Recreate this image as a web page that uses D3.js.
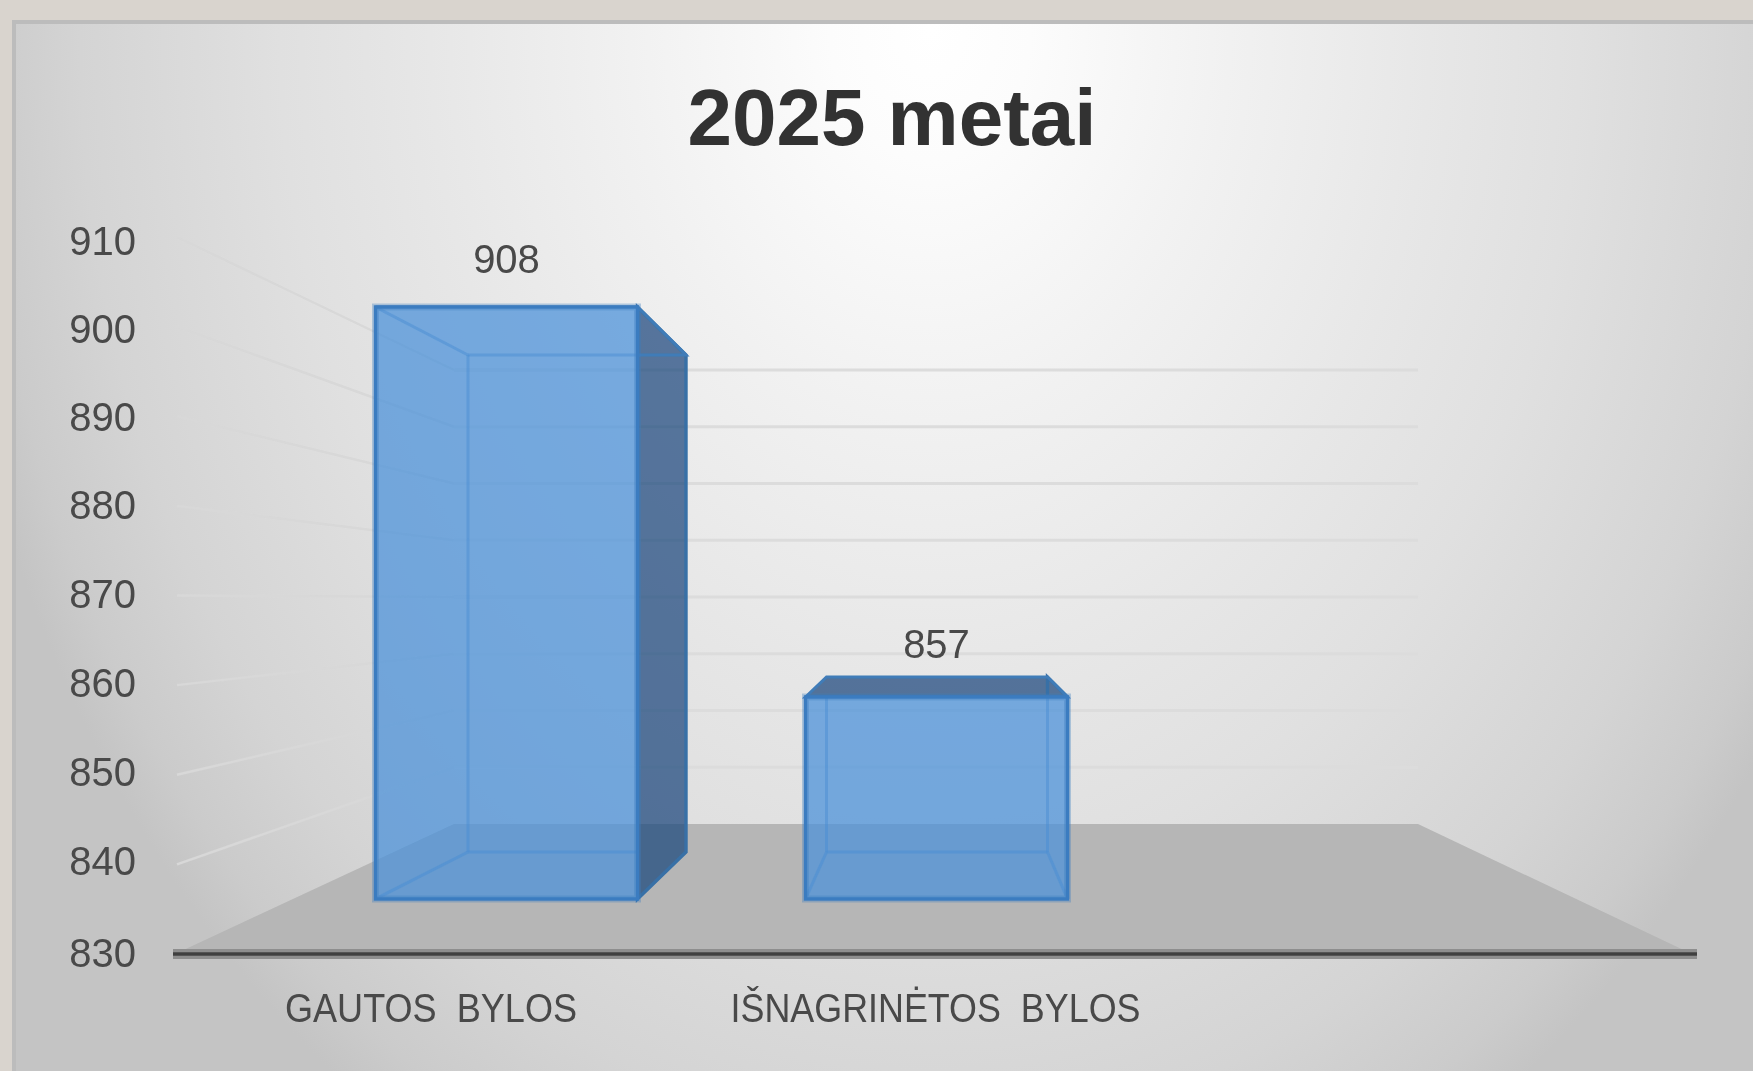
<!DOCTYPE html>
<html><head><meta charset="utf-8">
<script src="https://cdn.jsdelivr.net/npm/d3@7"></script>
<style>html,body{margin:0;padding:0;background:#d9d4ce;overflow:hidden}svg{display:block}</style>
</head><body><svg id="c" width="1753" height="1071"></svg>
<script>
const categories = ["GAUTOS  BYLOS", "IŠNAGRINĖTOS  BYLOS"];
const values = [908, 857];
const tickValues = [830, 840, 850, 860, 870, 880, 890, 900, 910];
const titleText = "2025 metai";

const svg = d3.select("#c");
const defs = svg.append("defs");

const bg = defs.append("radialGradient").attr("id","bg").attr("gradientUnits","userSpaceOnUse")
  .attr("cx",930).attr("cy",30).attr("r",1000)
  .attr("gradientTransform","translate(0,30) scale(1,1.3) translate(0,-30)");
[[0,"#ffffff"],[.1,"#fcfcfc"],[.3,"#f1f1f1"],[.5,"#e7e7e7"],[.65,"#e0e0e0"],[.85,"#d4d4d4"],[.95,"#cbcbcb"],[1,"#c4c4c4"]]
  .forEach(s=>bg.append("stop").attr("offset",s[0]).attr("stop-color",s[1]));
defs.append("filter").attr("id","soft").attr("x","-5%").attr("y","-5%").attr("width","110%").attr("height","110%")
  .append("feGaussianBlur").attr("stdDeviation",0.7);
defs.append("filter").attr("id","softT").attr("x","-5%").attr("y","-20%").attr("width","110%").attr("height","140%")
  .append("feGaussianBlur").attr("stdDeviation",0.45);

// Panel
svg.append("rect").attr("x",12).attr("y",20).attr("width",1741).attr("height",1051).attr("fill","#bcbcbc");
svg.append("rect").attr("x",16).attr("y",24).attr("width",1737).attr("height",1047).attr("fill","url(#bg)");

// Scales (the 3D view projects each depth plane differently)
const labelY = d3.scaleLinear().domain([830,840,880,910]).range([952,860,504,240]);
const wallY  = d3.scaleLinear().domain([830,910]).range([824,370]);
const sideY  = d3.scaleLinear().domain([830,910]).range([954,237]);
const frontY = d3.scaleLinear().domain([830,857,908]).range([899,697,307]);
const backY  = d3.scaleLinear().domain([830,857,908]).range([852,677,355]);
const dataLabelY = d3.scaleLinear().domain([857,908]).range([658,273]);
const frontX = d3.scalePoint().domain(categories).range([506.5,936.5]);
const backX  = d3.scalePoint().domain(categories).range([577,937]);
const catX   = d3.scalePoint().domain(categories).range([430.5,935]);
const frontHalf = 131;
const backHalf  = d3.scaleOrdinal().domain(categories).range([109,110.5]);

const wallX = {left:177, back:454, right:1418, floorL:175, floorR:1697, base:954};

const plot = svg.append("g").attr("filter","url(#soft)");

// Gridlines
const gridTicks = tickValues.filter(t=>t>830);
plot.append("g").selectAll("line").data(gridTicks).join("line")
  .attr("x1",wallX.left).attr("x2",wallX.back)
  .attr("y1",d=>sideY(d)).attr("y2",d=>wallY(d))
  .attr("stroke","#d8d8d8").attr("stroke-width",2.4);
plot.append("g").selectAll("line").data(gridTicks).join("line")
  .attr("x1",wallX.back).attr("x2",wallX.right)
  .attr("y1",d=>wallY(d)).attr("y2",d=>wallY(d))
  .attr("stroke","#dcdcdc").attr("stroke-width",2.8);

// Floor
plot.append("path")
  .attr("d",d3.line()([[wallX.floorL,wallX.base],[wallX.back,wallY(830)],[wallX.right,wallY(830)],[wallX.floorR-5,wallX.base]])+"Z")
  .attr("fill","#b6b6b6");

// Bars
const bars = categories.map((c,i)=>({c,i,v:values[i],
  fl:frontX(c)-frontHalf, fr:frontX(c)+frontHalf,
  bl:backX(c)-backHalf(c), br:backX(c)+backHalf(c)}));
const line = d3.line();
bars.forEach(b=>{
  const ft=frontY(b.v), fb=frontY(830), bt=backY(b.v), bb=backY(830);
  const m = defs.append("mask").attr("id","m"+b.i).attr("maskUnits","userSpaceOnUse")
    .attr("x",0).attr("y",0).attr("width",1753).attr("height",1071);
  m.append("rect").attr("width",1753).attr("height",1071).attr("fill","#fff");
  m.append("rect").attr("x",b.fl).attr("y",ft).attr("width",b.fr-b.fl).attr("height",fb-ft).attr("fill","#000");
  const g = plot.append("g");
  const dark = g.append("g").attr("mask",`url(#m${b.i})`);
  const darkFill = dark.append("g").attr("opacity",.72);
  const sideFace = line([[b.fr,ft],[b.br,bt],[b.br,bb],[b.fr,fb]])+"Z";
  const topFace  = line([[b.fl,ft],[b.bl,bt],[b.br,bt],[b.fr,ft]])+"Z";
  darkFill.append("path").attr("d",sideFace).attr("fill","#19477c");
  darkFill.append("path").attr("d",topFace).attr("fill","#19477c");
  // darker outline around the shaded faces
  dark.append("path").attr("d",sideFace).attr("fill","none").attr("stroke","#376fa6").attr("stroke-width",3.4);
  dark.append("path").attr("d",topFace).attr("fill","none").attr("stroke","#3f7cb8").attr("stroke-width",3);
  // front
  g.append("rect").attr("x",b.fl).attr("y",ft).attr("width",b.fr-b.fl).attr("height",fb-ft)
    .attr("fill","#4890d9").attr("fill-opacity",.72);
  // inner edges, seen through the front face
  const innerEdges = [
    [[b.bl,bt],[b.br,bt]],[[b.bl,bb],[b.br,bb]],[[b.bl,bt],[b.bl,bb]],[[b.br,bt],[b.br,bb]],
    [[b.fl,ft],[b.bl,bt]],[[b.fl,fb],[b.bl,bb]],[[b.fr,fb],[b.br,bb]],[[b.fr,ft],[b.br,bt]]];
  const clipId = "f"+b.i;
  defs.append("clipPath").attr("id",clipId).append("rect")
    .attr("x",b.fl).attr("y",ft).attr("width",b.fr-b.fl).attr("height",fb-ft);
  g.append("g").attr("clip-path",`url(#${clipId})`).selectAll("path").data(innerEdges).join("path").attr("d",d=>line(d))
    .attr("fill","none").attr("stroke","#4a8ed4").attr("stroke-opacity",.5).attr("stroke-width",3);
  // outer halo + outer front edge
  g.append("rect").attr("x",b.fl).attr("y",ft).attr("width",b.fr-b.fl).attr("height",fb-ft)
    .attr("fill","none").attr("stroke","#3f7fc0").attr("stroke-opacity",.35).attr("stroke-width",7);
  g.append("rect").attr("x",b.fl).attr("y",ft).attr("width",b.fr-b.fl).attr("height",fb-ft)
    .attr("fill","none").attr("stroke","#3a7cc0").attr("stroke-width",3.4);
});

// Base line
plot.append("line").attr("x1",wallX.floorL-2).attr("x2",wallX.floorR).attr("y1",wallX.base).attr("y2",wallX.base)
  .attr("stroke","#8e8e8e").attr("stroke-width",10);
plot.append("line").attr("x1",wallX.floorL-2).attr("x2",wallX.floorR).attr("y1",wallX.base).attr("y2",wallX.base)
  .attr("stroke","#404040").attr("stroke-width",3.4);

// Text
const text = svg.append("g").attr("filter","url(#softT)");
const FONT = "'Liberation Sans',Arial,sans-serif";

const yAxis = d3.axisLeft(labelY).tickValues(tickValues).tickSize(0).tickPadding(0).tickFormat(d3.format("d"));
const ya = text.append("g").attr("transform","translate(136,0)").call(yAxis);
ya.select(".domain").remove();
ya.selectAll("text").attr("font-family",FONT).attr("font-size",40).attr("fill","#484848").attr("dy","0.35em");

const xAxis = d3.axisBottom(catX).tickSize(0).tickPadding(0);
const xa = text.append("g").call(xAxis);
xa.select(".domain").remove();
xa.selectAll("text").attr("font-family",FONT).attr("font-size",40).attr("fill","#484848")
  .attr("dy",0).attr("y",1022).attr("xml:space","preserve").style("white-space","pre")
  .attr("textLength",(d,i)=>[292,410][i]).attr("lengthAdjust","spacingAndGlyphs");

text.append("g").selectAll("text").data(bars).join("text")
  .attr("x",d=>frontX(d.c)).attr("y",d=>dataLabelY(d.v)).attr("text-anchor","middle")
  .attr("font-family",FONT).attr("font-size",40).attr("fill","#484848").text(d=>d.v);

text.append("text").attr("x",892).attr("y",145).attr("text-anchor","middle")
  .attr("font-family",FONT).attr("font-weight",700).attr("font-size",80).attr("fill","#333333").text(titleText);
</script></body></html>
